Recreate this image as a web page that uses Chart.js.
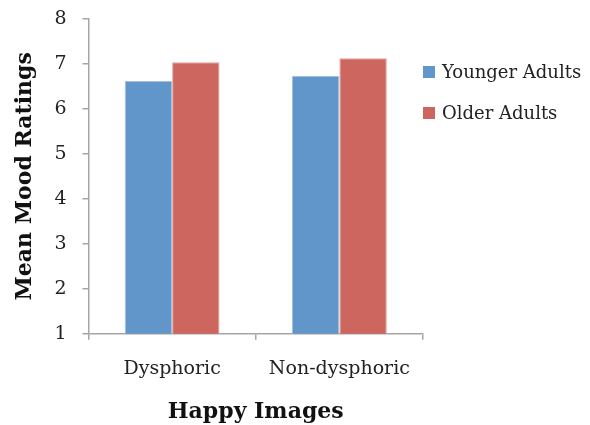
<!DOCTYPE html>
<html>
<head>
<meta charset="utf-8">
<script src="https://cdn.jsdelivr.net/npm/chart.js@4/dist/chart.umd.min.js"></script>
<style>
  html, body { margin: 0; padding: 0; background: #ffffff; }
  #wrap { width: 590px; height: 425px; }
</style>
</head>
<body>
<div id="wrap"><canvas id="chart" width="590" height="425"></canvas></div>
<script>
// Mean mood ratings after viewing happy images
const categories = ['Dysphoric', 'Non-dysphoric'];
const youngerAdults = [6.62, 6.73];
const olderAdults = [7.04, 7.13];
const yTicks = [1, 2, 3, 4, 5, 6, 7, 8];

const SERIF = '"DejaVu Serif", "Liberation Serif", serif';
const AXIS_GREY = '#a6a6a6';
const TEXT_DARK = '#222222';

// Legend drawn to the right of the plot area, stacked from the top
const sideLegend = {
  id: 'sideLegend',
  afterDraw(chart) {
    const { ctx, chartArea } = chart;
    const box = 12;
    const x = chartArea.right;
    const firstY = chartArea.top + 53;
    const step = 41;
    ctx.save();
    ctx.font = '18px ' + SERIF;
    ctx.textBaseline = 'middle';
    ctx.textAlign = 'left';
    chart.data.datasets.forEach((ds, i) => {
      const cy = firstY + i * step;
      ctx.fillStyle = ds.backgroundColor;
      ctx.fillRect(x, cy - box / 2, box, box);
      ctx.fillStyle = TEXT_DARK;
      ctx.fillText(ds.label, x + box + 7, cy + 1);
    });
    ctx.restore();
  }
};

new Chart(document.getElementById('chart'), {
  type: 'bar',
  data: {
    labels: categories,
    datasets: [
      { label: 'Younger Adults', data: youngerAdults, backgroundColor: '#6096c9',
        borderColor: '#a3c0e0', borderWidth: 1, borderSkipped: 'bottom' },
      { label: 'Older Adults', data: olderAdults, backgroundColor: '#cd665f',
        borderColor: '#e3a19c', borderWidth: 1, borderSkipped: 'bottom' }
    ]
  },
  plugins: [sideLegend],
  options: {
    responsive: false,
    animation: false,
    layout: { padding: { top: 19, right: 167, bottom: 0, left: 12 } },
    datasets: { bar: { categoryPercentage: 0.567, barPercentage: 1.0 } },
    plugins: {
      tooltip: { enabled: false },
      legend: { display: false }
    },
    scales: {
      x: {
        grid: { offset: true, drawOnChartArea: false, drawTicks: true, tickLength: 6, color: AXIS_GREY, lineWidth: 1.5 },
        border: { color: AXIS_GREY, width: 1.5 },
        ticks: { color: TEXT_DARK, font: { family: SERIF, size: 19 }, padding: 18 },
        title: { display: true, text: 'Happy Images', color: '#111111', font: { family: SERIF, size: 22, weight: 'bold' }, padding: { top: 0, bottom: 0 } }
      },
      y: {
        min: 1,
        max: 8,
        afterBuildTicks: (axis) => { axis.ticks = yTicks.map(v => ({ value: v })); },
        afterFit: (axis) => { axis.paddingTop = 0; axis.paddingBottom = 0; },
        grid: { drawOnChartArea: false, drawTicks: true, tickLength: 6, color: AXIS_GREY, lineWidth: 1.5 },
        border: { color: AXIS_GREY, width: 1.5 },
        ticks: { color: TEXT_DARK, font: { family: SERIF, size: 19 }, padding: 16 },
        title: { display: true, text: 'Mean Mood Ratings', color: '#111111', font: { family: SERIF, size: 22, weight: 'bold' }, padding: { top: 0, bottom: 0 } }
      }
    }
  }
});
</script>
</body>
</html>
